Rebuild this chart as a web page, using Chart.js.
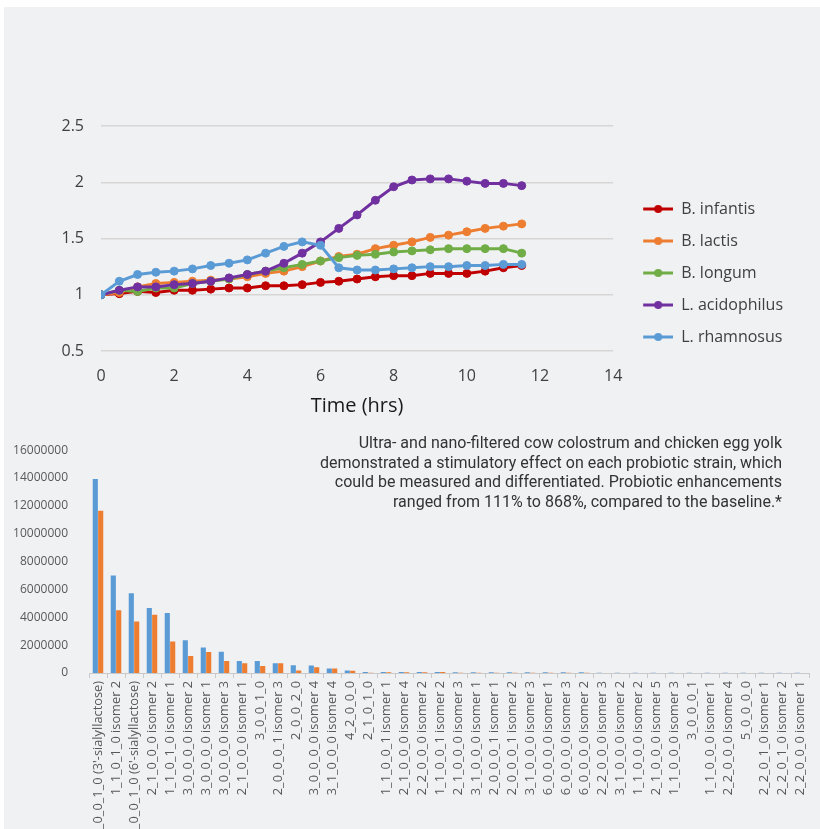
<!DOCTYPE html>
<html>
<head>
<meta charset="utf-8">
<script src="https://cdn.jsdelivr.net/npm/chart.js@4/dist/chart.umd.min.js"></script>
<style>
  html, body { margin: 0; padding: 0; background: #fff; }
  body { width: 820px; height: 829px; overflow: hidden; position: relative; }
  #panel { position: absolute; left: 4px; top: 7px; right: 0; bottom: 0; background: #f0f1f3; }
  #growthChart { position: absolute; left: 0; top: 0; }
  #oligoChart { position: absolute; left: 0; top: 430px; }
  #note {
    position: absolute; right: 38px; top: 433px;
    font-family: Roboto, sans-serif; font-size: 16px; line-height: 19.5px;
    color: #333; text-align: right; white-space: nowrap;
  }
</style>
</head>
<body>
<div id="panel"></div>
<canvas id="growthChart" width="820" height="440"></canvas>
<canvas id="oligoChart" width="820" height="400"></canvas>
<div id="note">Ultra- and nano-filtered cow colostrum and chicken egg yolk<br>demonstrated a stimulatory effect on each probiotic strain, which<br>could be measured and differentiated. Probiotic enhancements<br>ranged from 111% to 868%, compared to the baseline.*</div>

<script>
// growth curves (relative growth vs time)
const hours = [0, 0.5, 1, 1.5, 2, 2.5, 3, 3.5, 4, 4.5, 5, 5.5, 6, 6.5, 7, 7.5, 8, 8.5, 9, 9.5, 10, 10.5, 11, 11.5];
const infantis = [1.00, 1.01, 1.03, 1.02, 1.04, 1.04, 1.05, 1.06, 1.06, 1.08, 1.08, 1.09, 1.11, 1.12, 1.14, 1.16, 1.17, 1.17, 1.19, 1.19, 1.19, 1.21, 1.24, 1.26];
const lactis = [1.00, 1.02, 1.07, 1.10, 1.11, 1.12, 1.13, 1.14, 1.16, 1.19, 1.21, 1.25, 1.30, 1.34, 1.36, 1.41, 1.44, 1.47, 1.51, 1.53, 1.56, 1.59, 1.61, 1.63];
const longum = [1.00, 1.04, 1.03, 1.06, 1.06, 1.10, 1.12, 1.14, 1.18, 1.21, 1.24, 1.27, 1.30, 1.33, 1.35, 1.36, 1.38, 1.39, 1.40, 1.41, 1.41, 1.41, 1.41, 1.37];
const acidophilus = [1.00, 1.04, 1.07, 1.07, 1.09, 1.10, 1.12, 1.15, 1.18, 1.21, 1.28, 1.37, 1.47, 1.59, 1.71, 1.84, 1.96, 2.02, 2.03, 2.03, 2.01, 1.99, 1.99, 1.97];
const rhamnosus = [1.00, 1.12, 1.18, 1.20, 1.21, 1.23, 1.26, 1.28, 1.31, 1.37, 1.43, 1.47, 1.44, 1.24, 1.22, 1.22, 1.23, 1.24, 1.25, 1.25, 1.26, 1.26, 1.27, 1.27];
const strainNames = ['B. infantis', 'B. lactis', 'B. longum', 'L. acidophilus', 'L. rhamnosus'];
const xTicks = [0, 2, 4, 6, 8, 10, 12, 14];
const yTicks = [0.5, 1, 1.5, 2, 2.5];

// oligosaccharide abundances
const compounds = [
  "2_0_0_1_0 (3'-sialyllactose)", '1_1_0_1_0 isomer 2', "2_0_0_1_0 (6'-sialyllactose)", '2_1_0_0_0 isomer 2',
  '1_1_0_1_0 isomer 1', '3_0_0_0_0 isomer 2', '3_0_0_0_0 isomer 1', '3_0_0_0_0 isomer 3',
  '2_1_0_0_0 isomer 1', '3_0_0_1_0', '2_0_0_0_1 isomer 3', '2_0_0_2_0',
  '3_0_0_0_0 isomer 4', '3_1_0_0_0 isomer 4', '4_2_0_0_0', '2_1_0_1_0',
  '1_1_0_0_1 isomer 1', '2_1_0_0_0 isomer 4', '2_2_0_0_0 isomer 2', '1_1_0_0_1 isomer 2',
  '2_1_0_0_0 isomer 3', '3_1_0_0_0 isomer 1', '2_0_0_0_1 isomer 1', '2_0_0_0_1 isomer 2',
  '3_1_0_0_0 isomer 3', '6_0_0_0_0 isomer 1', '6_0_0_0_0 isomer 3', '6_0_0_0_0 isomer 2',
  '2_2_0_0_0 isomer 3', '3_1_0_0_0 isomer 2', '1_1_0_0_0 isomer 2', '2_1_0_0_0 isomer 5',
  '1_1_0_0_0 isomer 3', '3_0_0_0_1', '1_1_0_0_0 isomer 1', '2_2_0_0_0 isomer 4',
  '5_0_0_0_0', '2_2_0_1_0 isomer 1', '2_2_0_1_0 isomer 2', '2_2_0_0_0 isomer 1'
];
const series1 = [13930000, 7010000, 5720000, 4660000, 4310000, 2350000, 1840000, 1520000, 870000, 860000,
  700000, 560000, 540000, 330000, 180000, 70000, 70000, 70000, 70000, 70000,
  50000, 50000, 50000, 50000, 50000, 50000, 50000, 50000, 10000, 10000,
  10000, 10000, 10000, 10000, 10000, 10000, 10000, 10000, 10000, 10000];
const series2 = [11650000, 4500000, 3690000, 4190000, 2260000, 1220000, 1500000, 870000, 700000, 500000,
  700000, 180000, 420000, 330000, 170000, 10000, 50000, 50000, 50000, 70000,
  10000, 10000, 10000, 10000, 10000, 10000, 10000, 10000, 5000, 5000,
  5000, 5000, 5000, 5000, 5000, 5000, 5000, 5000, 5000, 5000];
const barTicks = [0, 2000000, 4000000, 6000000, 8000000, 10000000, 12000000, 14000000, 16000000];

Chart.defaults.font.family = "'Open Sans', sans-serif";

const colors = ['#C00000', '#ED7D31', '#70AD47', '#7030A0', '#5B9BD5'];
const strainData = [infantis, lactis, longum, acidophilus, rhamnosus];

// legend marker: short line with a dot in the middle
const makeIcon = (color) => {
    const c = document.createElement('canvas');
    c.width = 44; c.height = 12;
    const g = c.getContext('2d');
    g.strokeStyle = color;
    g.lineWidth = 3;
    g.beginPath(); g.moveTo(14, 6); g.lineTo(44, 6); g.stroke();
    g.fillStyle = color;
    g.beginPath(); g.arc(29, 6, 4, 0, Math.PI * 2); g.fill();
    return c;
};
const icons = colors.map(makeIcon);

new Chart(document.getElementById('growthChart'), {
    type: 'line',
    data: {
        datasets: strainNames.map((name, i) => ({
            label: name,
            data: hours.map((h, j) => ({ x: h, y: strainData[i][j] })),
            borderColor: colors[i],
            backgroundColor: colors[i],
            borderWidth: 3,
            pointRadius: 4,
            pointBorderWidth: 1,
            pointBackgroundColor: colors[i],
            pointBorderColor: colors[i],
            tension: 0,
            order: strainNames.length - i
        }))
    },
    options: {
        responsive: false,
        animation: false,
        layout: { padding: { left: 0, right: 27, top: 126, bottom: 20 } },
        plugins: {
            tooltip: { enabled: false },
            legend: {
                position: 'right',
                labels: {
                    usePointStyle: true,
                    pointStyleWidth: 44,
                    padding: 16,
                    color: '#404040',
                    font: { size: 16 },
                    sort: (a, b) => a.datasetIndex - b.datasetIndex,
                    generateLabels: (chart) => Chart.defaults.plugins.legend.labels.generateLabels(chart)
                        .map(item => ({ ...item, pointStyle: icons[item.datasetIndex] }))
                }
            }
        },
        scales: {
            x: {
                type: 'linear',
                min: xTicks[0],
                max: xTicks[xTicks.length - 1],
                afterBuildTicks: (scale) => { scale.ticks = xTicks.map(v => ({ value: v })); },
                afterFit: (scale) => { scale.height = 69; },
                ticks: { padding: 16, color: '#404040', font: { size: 16 }, callback: (v) => String(v) },
                grid: { display: false, drawTicks: false },
                border: { display: false },
                title: {
                    display: true,
                    text: 'Time (hrs)',
                    color: '#1a1a1a',
                    font: { size: 20 },
                    padding: { top: 6, bottom: 2 }
                }
            },
            y: {
                min: yTicks[0],
                max: yTicks[yTicks.length - 1],
                afterBuildTicks: (scale) => { scale.ticks = yTicks.map(v => ({ value: v })); },
                afterFit: (scale) => { scale.width = 101; },
                ticks: { padding: 17, color: '#404040', font: { size: 16 }, callback: (v) => String(v) },
                grid: { color: '#d6d6d6', lineWidth: 1.5, drawTicks: false },
                border: { display: false }
            }
        }
    }
});

new Chart(document.getElementById('oligoChart'), {
    type: 'bar',
    data: {
        labels: compounds,
        datasets: [
            { label: 'Series1', data: series1, backgroundColor: '#5B9BD5' },
            { label: 'Series2', data: series2, backgroundColor: '#ED7D31' }
        ]
    },
    options: {
        responsive: false,
        animation: false,
        categoryPercentage: 0.6,
        barPercentage: 0.95,
        layout: { padding: { left: 0, right: 11, top: 16, bottom: 0 } },
        plugins: { legend: { display: false }, tooltip: { enabled: false } },
        scales: {
            x: {
                afterFit: (scale) => { scale.height = 157; },
                ticks: { autoSkip: false, maxRotation: 90, minRotation: 90, padding: 3, color: '#595959', font: { size: 12.8 } },
                grid: { drawOnChartArea: false, tickLength: 5, color: '#c9c9c9' },
                border: { color: '#c9c9c9' }
            },
            y: {
                min: barTicks[0],
                max: barTicks[barTicks.length - 1],
                afterBuildTicks: (scale) => { scale.ticks = barTicks.map(v => ({ value: v })); },
                afterFit: (scale) => { scale.width = 89; },
                ticks: { padding: 13, color: '#595959', font: { size: 12 }, callback: (v) => String(v) },
                grid: { display: false },
                border: { display: false }
            }
        }
    }
});
</script>
</body>
</html>
